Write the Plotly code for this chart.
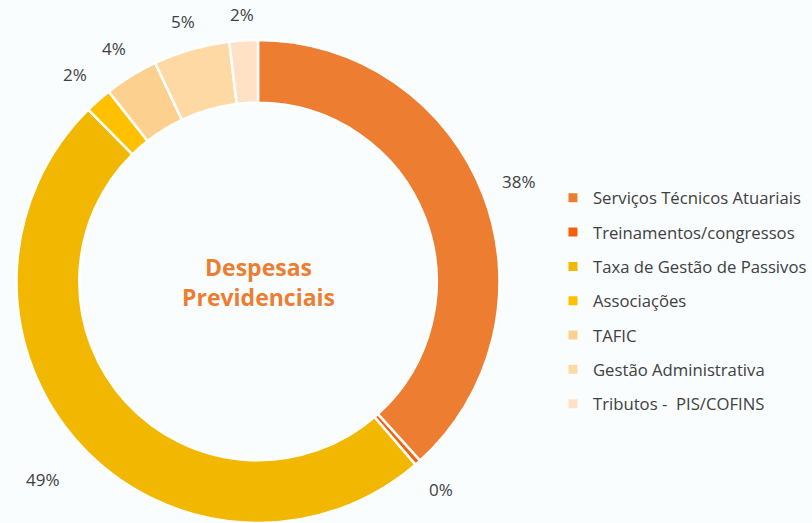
import math
import plotly.graph_objects as go

labels = ["Serviços Técnicos Atuariais", "Treinamentos/congressos", "Taxa de Gestão de Passivos",
          "Associações", "TAFIC", "Gestão Administrativa", "Tributos -  PIS/COFINS"]
values = [38.3, 0.4, 48.9, 1.8, 3.6, 5.1, 1.9]
colors = ["#ED7D31", "#F4610A", "#F2B700", "#FFC000", "#FCD08F", "#FFD9A3", "#FFE2C6"]
center_title = "Despesas<br>Previdenciais"

W, H = 812, 523
cx, cy, R = 258, 282, 242
BG = "#FAFDFE"

fig = go.Figure()
fig.add_trace(go.Pie(
    labels=labels, values=values, sort=False, direction="clockwise", rotation=0,
    hole=0.74, marker=dict(colors=colors, line=dict(color="white", width=2.5)),
    textinfo="none", hoverinfo="label+percent",
    showlegend=False,
    domain=dict(x=[(cx - R) / W, (cx + R) / W], y=[max(0, (H - cy - R) / H), min(1, (H - cy + R) / H)]),
))
for lab, col in zip(labels, colors):
    fig.add_trace(go.Scatter(x=[None], y=[None], mode="markers", name=lab,
                             marker=dict(symbol="square", size=9, color=col),
                             legendgroup=lab))

# percentage labels placed just outside each slice, at the slice's mid-angle
total = sum(values)
cum = 0.0
for v in values:
    mid = (cum + v / 2) / total * 2 * math.pi
    cum += v
    s, c = math.sin(mid), math.cos(mid)
    r = R + 22 + abs(s) * 16 + abs(c) * 3 + (v / total > 0.45) * 14
    fig.add_annotation(text=f"{v / total:.0%}", x=(cx + r * s) / W, y=(H - cy + r * c) / H,
                       xref="paper", yref="paper", showarrow=False,
                       xanchor="center", yanchor="middle",
                       font=dict(family="Open Sans", size=17, color="#404040"))

fig.add_annotation(text=center_title, x=cx / W, y=(H - cy) / H, xref="paper", yref="paper",
                   showarrow=False, xanchor="center", yanchor="middle",
                   font=dict(family="Open Sans", size=23, color="#ED7D31", weight="bold"))

fig.update_layout(
    width=W, height=H, margin=dict(l=0, r=0, t=0, b=0, autoexpand=False),
    paper_bgcolor=BG, plot_bgcolor=BG,
    xaxis=dict(visible=False), yaxis=dict(visible=False),
    legend=dict(x=0.681, y=0.655, xanchor="left", yanchor="top", tracegroupgap=9.6,
                font=dict(family="Open Sans", size=16.7, color="#404040"),
                bgcolor="rgba(0,0,0,0)", itemwidth=30),
)
fig.write_html("out.html", config={"displayModeBar": False},
               post_script="document.body.style.margin='0';document.body.style.background='" + BG + "';")
